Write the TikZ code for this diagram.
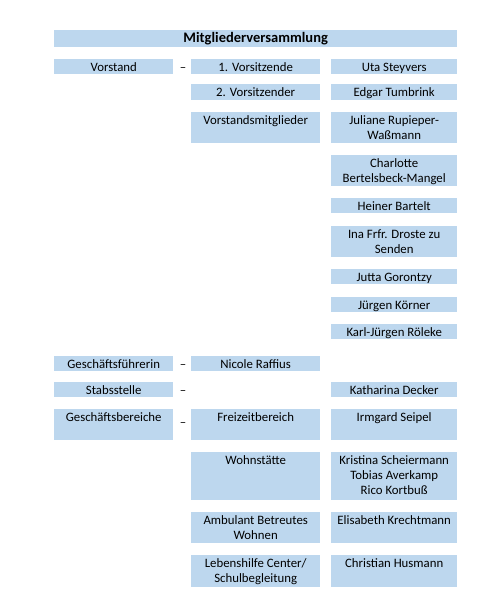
\documentclass[tikz,border=0pt]{standalone}
\usepackage{fontspec}
\setmainfont{Carlito}
\usepackage{tikz}
\usetikzlibrary{positioning}
\definecolor{OrgBlue}{HTML}{BDD7EE}

% stacked lines, baseline on the first line
\newcommand{\stacklines}[1]{\begin{tabular}[t]{@{}c@{}}#1\end{tabular}}

\tikzset{
  box/.style={fill=OrgBlue,anchor=north west,inner xsep=2pt,
              inner ysep=2pt,text height=10pt,text depth=1pt,
              font=\fontsize{12.8}{15}\selectfont},
  colA/.style={box,minimum width=119pt},
  colB/.style={box,minimum width=129pt},
  colC/.style={box,minimum width=126pt},
  deep/.style={text depth=#1},
  sep/.style={font=\fontsize{12.8}{15}\selectfont,inner sep=0pt,anchor=base}
}

\begin{document}
\begin{tikzpicture}[x=1pt,y=-1pt]
  \useasboundingbox (0,0) rectangle (481,613);
  % header
  \node[fill=OrgBlue,anchor=north west,minimum width=403pt,minimum height=17pt,
        inner sep=0pt,font=\fontsize{14.5}{16}\selectfont\bfseries]
    (mv) at (54,30) {Mitgliederversammlung};

  % Vorstand
  \node[colA] (vorstand) at (54,59) {Vorstand};
  \node[sep] (d1) at (183,71) {--};
  \node[colB] (vors1) at (191,59) {1. Vorsitzende};
  \node[colC] (steyvers) at (331,59) {Uta Steyvers};
  \node[colB,deep=2pt] (vors2) at (191,84) {2. Vorsitzender};
  \node[colC,deep=2pt] (tumbrink) at (331,84) {Edgar Tumbrink};
  \node[colB,deep=17pt] (mitgl) at (191,112) {Vorstandsmitglieder};
  \node[colC,deep=17pt] (rupieper) at (331,112) {\stacklines{Juliane Rupieper-\\Waßmann}};
  \node[colC,deep=17pt] (bertelsbeck) at (331,155) {\stacklines{Charlotte\\Bertelsbeck-Mangel}};
  \node[colC] (bartelt) at (331,198) {Heiner Bartelt};
  \node[colC,deep=17pt] (droste) at (331,226) {\stacklines{Ina Frfr. Droste zu\\Senden}};
  \node[colC] (gorontzy) at (331,269) {Jutta Gorontzy};
  \node[colC] (koerner) at (331,297) {Jürgen Körner};
  \node[colC] (roeleke) at (331,324) {Karl-Jürgen Röleke};

  % Geschaeftsfuehrung
  \node[colA] (gf) at (54,356) {Geschäftsführerin};
  \node[sep] (d2) at (183,368) {--};
  \node[colB] (raffius) at (191,356) {Nicole Raffius};

  \node[colA] (stab) at (54,382) {Stabsstelle};
  \node[sep] (d3) at (183,394) {--};
  \node[colC] (decker) at (331,382) {Katharina Decker};

  % Geschaeftsbereiche
  \node[colA,deep=17pt] (gb) at (54,409) {Geschäftsbereiche};
  \node[sep] (d4) at (183,426) {--};
  \node[colB,deep=17pt] (freizeit) at (191,409) {Freizeitbereich};
  \node[colC,deep=17pt] (seipel) at (331,409) {Irmgard Seipel};
  \node[colB,deep=34pt] (wohn) at (191,452) {Wohnstätte};
  \node[colC,deep=34pt] (wohnteam) at (331,452)
    {\stacklines{Kristina Scheiermann\\Tobias Averkamp\\Rico Kortbuß}};
  \node[colB,deep=17pt] (abw) at (191,512) {\stacklines{Ambulant Betreutes\\Wohnen}};
  \node[colC,deep=17pt] (krechtmann) at (331,512) {Elisabeth Krechtmann};
  \node[colB,deep=18pt] (center) at (191,555) {\stacklines{Lebenshilfe Center/\\Schulbegleitung}};
  \node[colC,deep=18pt] (husmann) at (331,555) {Christian Husmann};
\end{tikzpicture}
\end{document}
